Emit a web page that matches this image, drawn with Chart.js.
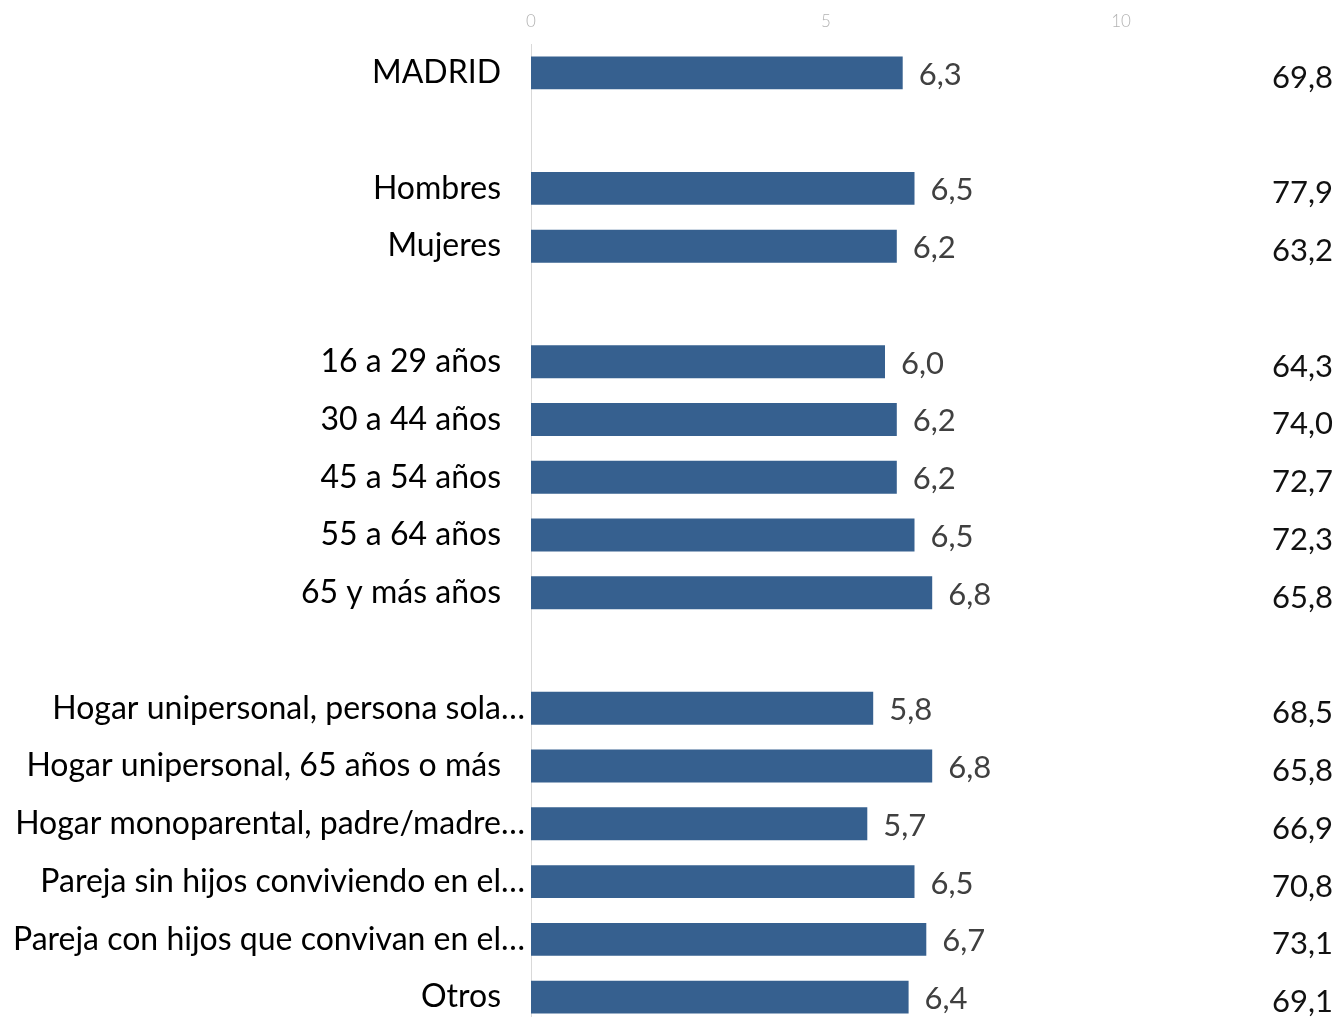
<!DOCTYPE html>
<html>
<head>
<meta charset="utf-8">
<script src="https://cdn.jsdelivr.net/npm/chart.js@4"></script>
<style>
    html, body { margin: 0; padding: 0; background: #fff; overflow: hidden; }
    #wrap { position: relative; width: 1339px; height: 1026px; }
</style>
</head>
<body>
<div id="wrap"><canvas id="chart"></canvas></div>
<script>
// Data
const categories = [
    'MADRID', '',
    'Hombres', 'Mujeres', '',
    '16 a 29 años', '30 a 44 años', '45 a 54 años', '55 a 64 años', '65 y más años', '',
    'Hogar unipersonal, persona sola…', 'Hogar unipersonal, 65 años o más',
    'Hogar monoparental, padre/madre…', 'Pareja sin hijos conviviendo en el…',
    'Pareja con hijos que convivan en el…', 'Otros'
];
const scores = [6.3, null, 6.5, 6.2, null, 6.0, 6.2, 6.2, 6.5, 6.8, null, 5.8, 6.8, 5.7, 6.5, 6.7, 6.4];
const sideValues = [69.8, null, 77.9, 63.2, null, 64.3, 74.0, 72.7, 72.3, 65.8, null, 68.5, 65.8, 66.9, 70.8, 73.1, 69.1];
const xTicks = [0, 5, 10];

function fmt(v) {
    return v.toFixed(1).replace('.', ',');
}

// value labels next to the bars and the column of values on the right
const labelsPlugin = {
    id: 'labels',
    afterDatasetsDraw(chart) {
        const ctx = chart.ctx;
        const meta = chart.getDatasetMeta(0);
        const yScale = chart.scales.y;
        ctx.save();
        ctx.textBaseline = 'middle';
        ctx.font = '31px Lato';
        ctx.fillStyle = '#404040';
        ctx.textAlign = 'left';
        meta.data.forEach(function(bar, i) {
            if (scores[i] == null) return;
            ctx.fillText(fmt(scores[i]), bar.x + 16, bar.y + 2);
        });
        ctx.font = '31px Lato';
        ctx.fillStyle = '#111';
        ctx.textAlign = 'right';
        sideValues.forEach(function(v, i) {
            if (v == null) return;
            ctx.fillText(fmt(v), chart.width - 6, yScale.getPixelForValue(i) + 5);
        });
        ctx.restore();
    }
};

const ctx = document.getElementById('chart').getContext('2d');
new Chart(ctx, {
    type: 'bar',
    data: {
        labels: categories,
        datasets: [{
            data: scores,
            backgroundColor: '#36608f',
            barPercentage: 0.57,
            categoryPercentage: 1
        }]
    },
    options: {
        indexAxis: 'y',
        responsive: true,
        maintainAspectRatio: false,
        animation: false,
        layout: { padding: { left: 0, right: 100, top: 0, bottom: 0 } },
        plugins: {
            legend: { display: false },
            tooltip: { enabled: false }
        },
        scales: {
            x: {
                position: 'top',
                min: 0,
                max: 12,
                afterBuildTicks(scale) {
                    scale.ticks = xTicks.map(v => ({ value: v }));
                },
                afterFit(scale) {
                    scale.height = 44;
                    scale.paddingLeft = 0;
                    scale.paddingRight = 0;
                },
                grid: { display: false, drawTicks: false },
                border: { display: false },
                ticks: {
                    color: '#b3b3b3',
                    font: { family: 'Lato', size: 17, weight: '300' },
                    padding: 12
                }
            },
            y: {
                afterFit(scale) {
                    scale.width = 531;
                    scale.paddingTop = 0;
                    scale.paddingBottom = 0;
                },
                grid: { display: false, drawTicks: false },
                border: { display: true, color: '#d9d9d9', width: 1 },
                ticks: {
                    color: '#000',
                    font: { family: 'Lato', size: 32 },
                    padding: 6,
                    autoSkip: false,
                    callback: function(value) {
                        const label = categories[value];
                        if (!label) return '';
                        // labels that are not cut off sit a bit further left
                        return label.endsWith('…') ? label : label + '\u2002\u2005';
                    }
                }
            }
        }
    },
    plugins: [labelsPlugin]
});
</script>
</body>
</html>
